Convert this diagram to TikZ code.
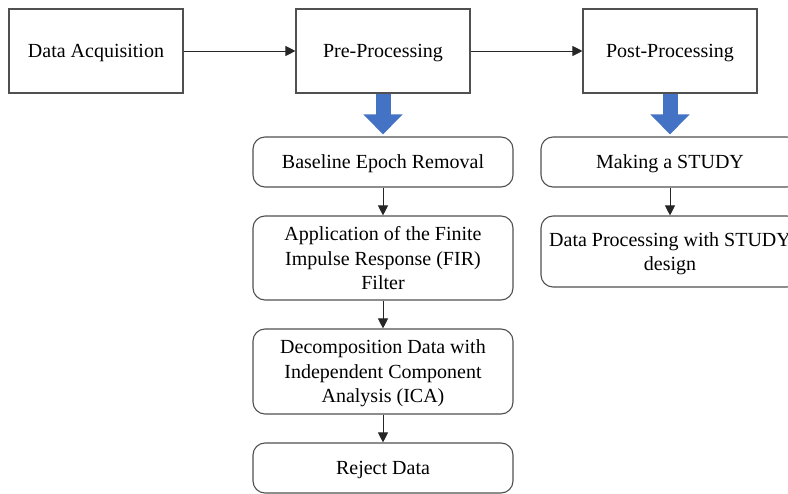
\documentclass[tikz,border=0pt]{standalone}
\usepackage{fontspec}
\setmainfont{Liberation Serif}
\usepackage{tikz}
\usetikzlibrary{arrows.meta}
\definecolor{frameGray}{HTML}{505050}
\definecolor{blockBlue}{HTML}{4472C4}

\begin{document}
\begin{tikzpicture}[x=1pt, y=-1pt,
    stage/.style={draw=frameGray, line width=1.1pt, minimum width=174pt, minimum height=84pt,
        text depth=0pt, font=\fontsize{20}{24.5}\selectfont},
    task/.style={draw=frameGray, line width=1.1pt, rounded corners=12pt, minimum width=260pt,
        align=center, inner sep=0pt, text depth=0pt, font=\fontsize{20}{24.5}\selectfont},
    flow/.style={-{Triangle[length=10pt, width=10pt]}, line width=0.9pt, black!85},
    bigflow/.style={blockBlue, line width=15pt, shorten >=2pt,
        -{Triangle[length=20pt, width=38pt]}}]
    \useasboundingbox (0,0) rectangle (788,494);

    \node[stage] (acq)  at (96,51)  {Data Acquisition};
    \node[stage] (pre)  at (383,51) {Pre-Processing};
    \node[stage] (post) at (670,51) {Post-Processing};

    \node[task, minimum height=50pt] (baseline) at (383,162)   {Baseline Epoch Removal};
    \node[task, minimum height=84pt] (fir)      at (383,258)   {Application of the Finite\\Impulse Response (FIR)\\Filter};
    \node[task, minimum height=85pt] (ica)      at (383,371.5) {Decomposition Data with\\Independent Component\\Analysis (ICA)};
    \node[task, minimum height=50pt] (reject)   at (383,468)   {Reject Data};

    \node[task, minimum width=258pt, minimum height=50pt] (study)  at (670,162)   {Making a STUDY};
    \node[task, minimum width=258pt, minimum height=71pt] (design) at (670,251.5) {Data Processing with STUDY\\design};

    \draw[flow] (acq) -- (pre);
    \draw[flow] (pre) -- (post);

    \draw[bigflow] (pre.south) -- (baseline.north);
    \draw[bigflow] (post.south) -- (study.north);

    \draw[flow] (baseline) -- (fir);
    \draw[flow] (fir) -- (ica);
    \draw[flow] (ica) -- (reject);
    \draw[flow] (study) -- (design);
\end{tikzpicture}
\end{document}
